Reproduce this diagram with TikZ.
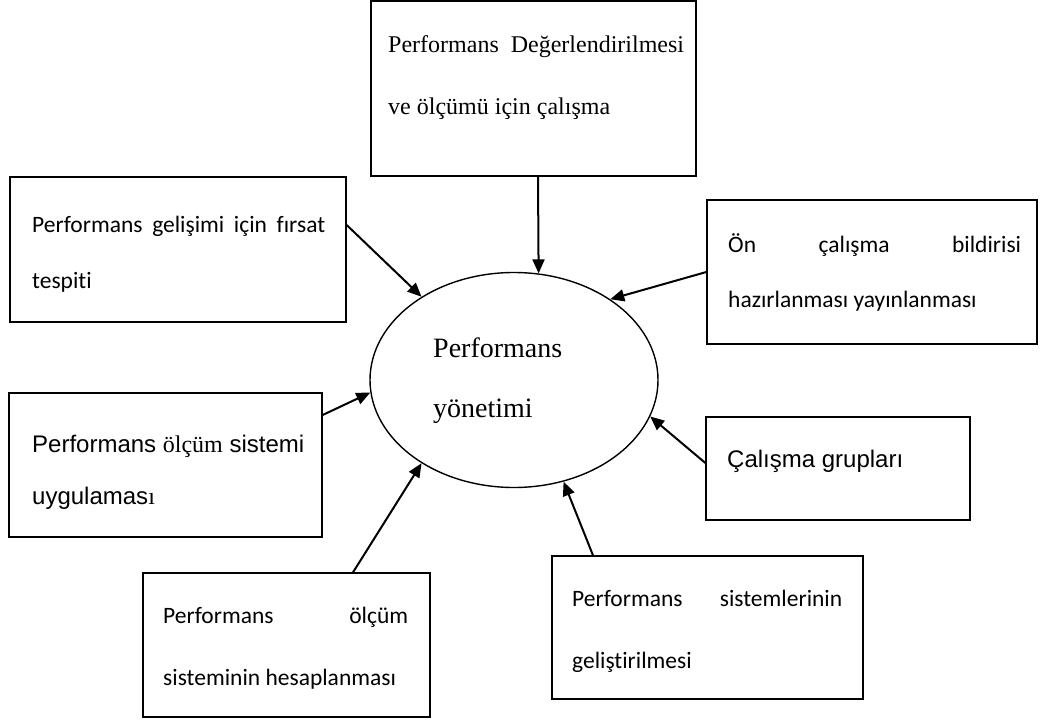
\documentclass[tikz,border=0pt]{standalone}
\usepackage{fontspec}
\usetikzlibrary{arrows.meta,shapes.geometric}
\newfontfamily\tnrfont{Liberation Serif}
\newfontfamily\calfont[RawFeature={-liga;-dlig;-clig}]{Carlito}
\newfontfamily\arifont{Liberation Sans}
\begin{document}
\begin{tikzpicture}[x=1pt,y=-1pt,
  box/.style={draw, line width=1.3pt, rectangle, inner sep=0pt},
  arr/.style={line width=2pt, -{Triangle[length=14pt,width=12pt]}},
  txt/.style={anchor=base west, inner sep=0pt},
  tnr/.style={font=\tnrfont\fontsize{24}{28}\selectfont},
  cal/.style={font=\calfont\fontsize{23.5}{28}\selectfont},
  ari/.style={font=\arifont\fontsize{24}{28}\selectfont}]
\useasboundingbox (0,0) rectangle (1041,722);
\fill[white] (0,0) rectangle (1041,722);

% boxes
\node[box, minimum width=325pt, minimum height=175pt] (ntop) at (533.5,88.5) {};
\node[box, minimum width=336pt, minimum height=145pt] (nA) at (178,249.5) {};
\node[box, minimum width=313pt, minimum height=144pt] (nB) at (165.5,465) {};
\node[box, minimum width=330pt, minimum height=144pt] (nC) at (872,272) {};
\node[box, minimum width=264pt, minimum height=103pt] (nD) at (838,468.5) {};
\node[box, minimum width=287pt, minimum height=144pt] (nE) at (286.5,645) {};
\node[box, minimum width=311pt, minimum height=143pt] (nF) at (707.5,627.5) {};
\node[draw, ellipse, line width=1.4pt, minimum width=288pt, minimum height=215pt, inner sep=0pt] (ell) at (514,380) {};

% texts
\node[txt,tnr] (t1) at (388,53) {Performans\ \ Değerlendirilmesi};
\node[txt,tnr] (t2) at (388,115) {ve ölçümü için çalışma};

\node[txt,cal] (a1) at (32,233) {\makebox[293pt][s]{Performans gelişimi için fırsat}};
\node[txt,cal] (a2) at (32,288) {tespiti};

\node[txt,ari] (b1) at (32,452) {Performans {\tnrfont ölçüm} sistemi};
\node[txt,ari] (b2) at (32,504) {uygulamas{\tnrfont ı}};

\node[txt,cal] (c1) at (728,252) {\makebox[293pt][s]{Ön çalışma bildirisi}};
\node[txt,cal] (c2) at (728,307) {hazırlanması yayınlanması};

\node[txt,ari] (d1) at (727,467) {Çalışma grupları};

\node[txt,cal] (e1) at (163,623) {\makebox[245pt][s]{Performans ölçüm}};
\node[txt,cal] (e2) at (163,685) {sisteminin hesaplanması};

\node[txt,cal] (f1) at (572,606) {\makebox[270pt][s]{Performans sistemlerinin}};
\node[txt,cal] (f2) at (572,668) {geliştirilmesi};

\node[txt,font=\tnrfont\fontsize{28}{32}\selectfont] (m1) at (433,357) {Performans};
\node[txt,font=\tnrfont\fontsize{28}{32}\selectfont] (m2) at (433,417) {yönetimi};

% connectors
\draw[arr] ([xshift=4.5pt]ntop.south) -- (ell.77.6);
\draw[arr] ([yshift=24.5pt]nA.east) -- (ell.138.8);
\draw[arr] (nC.west) -- (ell.40.3);
\draw[arr] ([yshift=50pt]nB.east) -- (ell.185.6);
\draw[arr] ([yshift=5.5pt]nD.west) -- (ell.345.9);
\draw[arr] ([xshift=66.5pt]nE.north) -- (ell.222.5);
\draw[arr] ([xshift=-114.5pt]nF.north) -- (ell.296.6);
\end{tikzpicture}
\end{document}
